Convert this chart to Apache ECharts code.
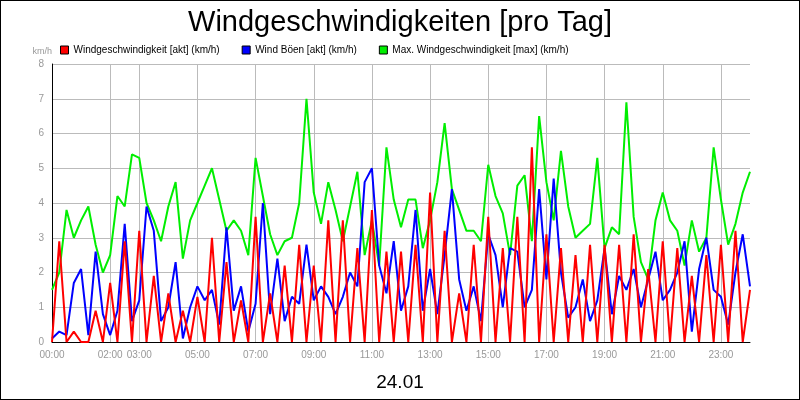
<!DOCTYPE html>
<html><head><meta charset="utf-8">
<script src="https://cdn.jsdelivr.net/npm/echarts@6/dist/echarts.min.js"></script>
<style>html,body{margin:0;padding:0}#c{width:798px;height:398px;border:1px solid #000}</style>
</head><body><div id="c"></div>
<script>
var shownHours = [0, 2, 3, 5, 7, 9, 11, 13, 15, 17, 19, 21, 23];
var windAkt = [0,2.9,0,0.3,0,0,0.9,0, 1.7,0,2.9,0,3.2,0,1.9,0, 1.4,0,0.9,0,1.3,0,3.0,0,
  2.3,0,1.2,0,3.6,0,1.4,0, 2.2,0,2.8,0,2.2,0,3.5,0, 3.5,0,2.7,0,3.8,0,2.6,0,
  2.6,0,2.8,0,4.3,0,3.2,0, 1.4,0,2.8,0,3.6,0,2.7,0, 3.6,0,5.6,0,3.1,0,2.7,0,
  2.5,0,2.8,0,2.8,0,2.8,0, 3.1,0,2.1,0,2.9,0,2.7,0, 1.9,0,2.5,0,2.8,0,3.2,0, 1.5];
var boeen = [0.1,0.3,0.2,1.7,2.1,0.2,2.6,0.8, 0.2,0.9,3.4,0.6,1.2,3.9,3.2,0.6, 1.0,2.3,0.1,1.0,1.6,1.2,1.5,0.5,
  3.3,0.9,1.6,0.3,1.1,4.0,0.8,2.4, 0.6,1.3,1.1,2.8,1.2,1.6,1.3,0.8, 1.3,2.0,1.6,4.6,5.0,2.2,1.4,2.9,
  0.9,1.6,3.8,0.9,2.1,0.8,2.5,4.4, 1.8,0.9,1.6,0.6,3.1,2.5,1.0,2.7, 2.6,1.0,1.5,4.4,1.8,4.7,2.0,0.7,
  1.0,1.8,0.6,1.2,2.7,0.8,1.9,1.5, 2.1,1.0,1.8,2.6,1.2,1.5,2.0,2.9, 0.3,2.1,3.0,1.5,1.3,0.5,2.0,3.1, 1.6];
var maxWind = [1.5,2.0,3.8,3.0,3.5,3.9,2.8,2.0, 2.5,4.2,3.9,5.4,5.3,4.0,3.5,2.9, 3.9,4.6,2.4,3.5,4.0,4.5,5.0,4.1,
  3.2,3.5,3.2,2.5,5.3,4.2,3.1,2.5, 2.9,3.0,4.0,7.0,4.3,3.4,4.6,3.8, 2.9,3.9,4.9,2.5,3.5,2.2,5.6,4.1,
  3.3,4.1,4.1,2.7,3.5,4.6,6.3,4.4, 3.8,3.2,3.2,2.9,5.1,4.2,3.7,2.5, 4.5,4.8,2.9,6.5,4.6,3.5,5.5,3.9,
  3.0,3.2,3.4,5.3,2.7,3.3,3.1,6.9, 3.6,2.3,1.8,3.5,4.3,3.5,3.2,2.2, 3.5,2.6,3.0,5.6,4.1,2.8,3.4,4.3, 4.9];

var times = [];
for (var i = 0; i < maxWind.length; i++) {
  var m = i * 15;
  times.push(String(Math.floor(m / 60) % 24).padStart(2, '0') + ':' + String(m % 60).padStart(2, '0'));
}
function isShown(i) { return i % 4 === 0 && shownHours.indexOf(i / 4) >= 0; }

var chart = echarts.init(document.getElementById('c'));
chart.setOption({
  animation: false,
  textStyle: { fontFamily: 'Liberation Sans' },
  title: [
    { text: 'Windgeschwindigkeiten [pro Tag]', left: 'center', top: 2, textStyle: { fontSize: 29, fontWeight: 'normal', color: '#000', fontFamily: 'Liberation Sans' } },
    { text: '24.01', left: 'center', top: 367, textStyle: { fontSize: 19, fontWeight: 'normal', color: '#000', fontFamily: 'Liberation Sans' } }
  ],
  legend: {
    top: 39, left: 54, itemWidth: 8, itemHeight: 8, itemGap: 22,
    textStyle: { fontSize: 10, color: '#000' },
    data: [
      { name: 'Windgeschwindigkeit [akt] (km/h)', icon: 'rect', itemStyle: { borderColor: '#000', borderWidth: 1 } },
      { name: 'Wind Böen [akt] (km/h)', icon: 'rect', itemStyle: { borderColor: '#000', borderWidth: 1 } },
      { name: 'Max. Windgeschwindigkeit [max] (km/h)', icon: 'rect', itemStyle: { borderColor: '#000', borderWidth: 1 } }
    ]
  },
  grid: { left: 51, right: 49, top: 63, bottom: 57 },
  xAxis: {
    type: 'category', data: times, boundaryGap: false,
    axisLine: { lineStyle: { color: '#000' } },
    axisTick: { show: false },
    axisLabel: { interval: function (i) { return isShown(i); }, color: '#999', fontSize: 10 },
    splitLine: { show: true, interval: function (i) { return isShown(i); }, lineStyle: { color: '#bbb' } }
  },
  yAxis: {
    type: 'value', min: 0, max: 8, interval: 1, name: 'km/h',
    nameTextStyle: { color: '#999', fontSize: 9, align: 'right' },
    nameGap: 8,
    axisLine: { show: true, lineStyle: { color: '#000' } },
    axisLabel: { color: '#999', fontSize: 10 },
    splitLine: { lineStyle: { color: '#bbb' } }
  },
  series: [
    { name: 'Max. Windgeschwindigkeit [max] (km/h)', type: 'line', data: maxWind, showSymbol: false, z: 1,
      itemStyle: { color: '#00ee00' }, lineStyle: { color: '#00ee00', width: 2 } },
    { name: 'Wind Böen [akt] (km/h)', type: 'line', data: boeen, showSymbol: false, z: 2,
      itemStyle: { color: '#0000ff' }, lineStyle: { color: '#0000ff', width: 2 } },
    { name: 'Windgeschwindigkeit [akt] (km/h)', type: 'line', data: windAkt, showSymbol: false, z: 3,
      itemStyle: { color: '#ff0000' }, lineStyle: { color: '#ff0000', width: 2 } }
  ]
});
</script></body></html>
